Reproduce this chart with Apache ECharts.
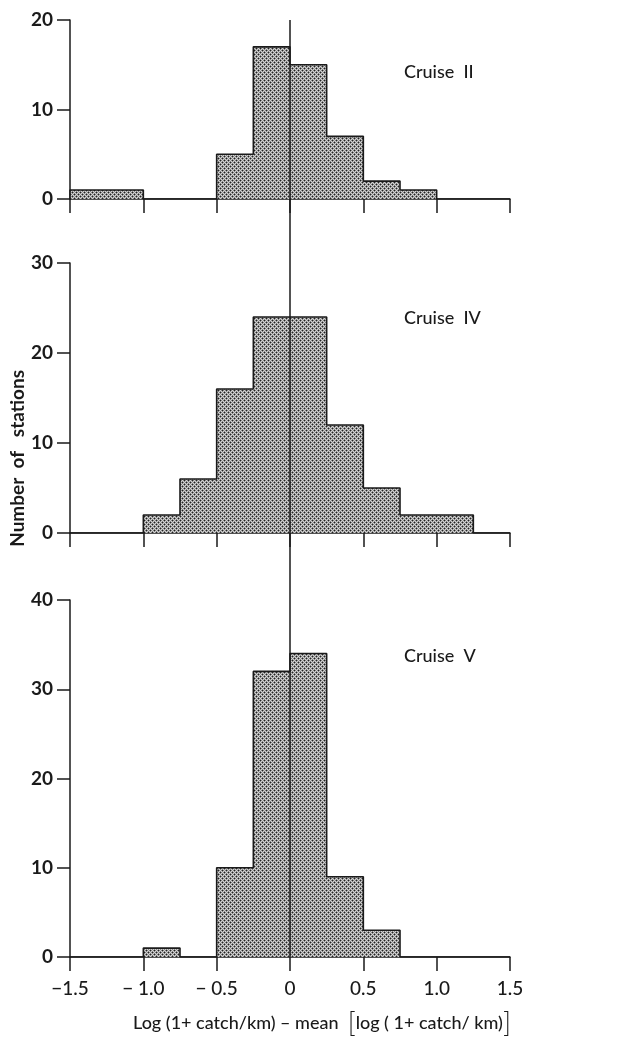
<!DOCTYPE html>
<html>
<head>
<meta charset="utf-8">
<script src="https://cdn.jsdelivr.net/npm/echarts@6/dist/echarts.min.js"></script>
<style>
  html, body { margin: 0; padding: 0; background: #fff; }
  #chart { width: 634px; height: 1038px; }
</style>
</head>
<body>
<div id="chart"></div>
<script>
// Histogram bin edges (width 0.25) and station counts per cruise
const binEdges = [-1.5, -1.25, -1.0, -0.75, -0.5, -0.25, 0, 0.25, 0.5, 0.75, 1.0, 1.25, 1.5];
const cruiseII = [1, 1, 0, 0, 5, 17, 15, 7, 2, 1, 0, 0];
const cruiseIV = [0, 0, 2, 6, 16, 24, 24, 12, 5, 2, 2, 0];
const cruiseV  = [0, 0, 1, 0, 10, 32, 34, 9, 3, 0, 0, 0];
const panelCounts = [cruiseII, cruiseIV, cruiseV];
const panelNames = ['Cruise  II', 'Cruise  IV', 'Cruise  V'];
const yMaxima = [20, 30, 40];
const xTickValues = [-1.5, -1.0, -0.5, 0, 0.5, 1.0, 1.5];
const xTickLabels = ['−1.5', '− 1.0', '− 0.5', '0', '0.5', '1.0', '1.5'];

const FONT = 'Lato, "Open Sans", sans-serif';
const INK = '#1a1a1a';

// Halftone stipple used as the bar fill: soft dark dots on a diagonal grid
function stipple() {
  const c = document.createElement('canvas');
  c.width = 4; c.height = 4;
  const g = c.getContext('2d');
  g.fillStyle = '#d2d2d2';
  g.fillRect(0, 0, 4, 4);
  const dot = (x, y) => {
    g.fillStyle = '#858585';
    g.fillRect((x + 1) % 4, y, 1, 1);
    g.fillRect(x, (y + 1) % 4, 1, 1);
    g.fillRect((x + 3) % 4, y, 1, 1);
    g.fillRect(x, (y + 3) % 4, 1, 1);
    g.fillStyle = '#222222';
    g.fillRect(x, y, 1, 1);
  };
  dot(0, 0);
  dot(2, 2);
  return c;
}
const pattern = { image: stipple(), repeat: 'repeat' };

// Outline of a histogram as step points: up at each left edge, across to the right edge
function histogramOutline(counts) {
  const pts = [[binEdges[0], 0]];
  counts.forEach((c, i) => pts.push([binEdges[i + 1], c]));
  pts.push([binEdges[counts.length], 0]);
  return pts;
}

const grids = [
  { left: 70, width: 440, top: 20, height: 179 },
  { left: 70, width: 440, top: 263, height: 270 },
  { left: 70, width: 440, top: 600, height: 357 }
];

const chart = echarts.init(document.getElementById('chart'), null, { renderer: 'canvas' });

const textGraphics = [
  {
    id: 'yName',
    type: 'text',
    left: 8,
    top: 370,
    rotation: Math.PI / 2,
    style: {
      text: 'Number  of   stations',
      font: 'bold 19px Lato, "Open Sans", sans-serif',
      fill: INK
    }
  },
  {
    id: 'xName',
    type: 'text',
    left: 133,
    top: 1010,
    style: {
      rich: {
        t: { fontFamily: FONT, fontSize: 18, fontWeight: 500, fill: INK, color: INK },
        b: { fontFamily: FONT, fontSize: 27, fontWeight: 300, fill: INK, color: INK }
      },
      text: '{t|Log (1+ catch/km) – mean  }{b|[}{t|log ( 1+ catch/ km)}{b|]}'
    }
  }
];

const option = {
  backgroundColor: '#ffffff',
  animation: false,
  title: panelNames.map((name, i) => ({
    text: name,
    left: 399,
    top: [58, 304, 642][i],
    textStyle: { fontFamily: FONT, fontSize: 18, fontWeight: 500, color: INK }
  })),
  grid: grids,
  xAxis: grids.map((g, i) => ({
    type: 'value',
    gridIndex: i,
    min: -1.5,
    max: 1.5,
    interval: 0.5,
    axisLine: { show: true, onZero: false, lineStyle: { color: INK, width: 1.5 } },
    axisTick: { show: true, inside: false, length: 14, lineStyle: { color: INK, width: 1.5 } },
    splitLine: { show: false },
    axisLabel: {
      show: i === 2,
      margin: 22,
      showMinLabel: true,
      showMaxLabel: true,
      fontFamily: FONT,
      fontSize: 19,
      fontWeight: 500,
      color: INK,
      formatter: v => {
        const k = xTickValues.findIndex(t => Math.abs(t - v) < 1e-9);
        return k >= 0 ? xTickLabels[k] : '';
      }
    }
  })),
  yAxis: grids.map((g, i) => ({
    type: 'value',
    gridIndex: i,
    min: 0,
    max: yMaxima[i],
    interval: 10,
    axisLine: { show: true, onZero: false, lineStyle: { color: INK, width: 1.5 } },
    axisTick: { show: true, inside: false, length: 13, lineStyle: { color: INK, width: 1.5 } },
    splitLine: { show: false },
    axisLabel: {
      margin: 17,
      fontFamily: FONT,
      fontSize: 19,
      fontWeight: 'bold',
      color: INK
    }
  })),
  series: panelCounts.map((counts, i) => ({
    type: 'line',
    xAxisIndex: i,
    yAxisIndex: i,
    step: 'start',
    symbol: 'none',
    data: histogramOutline(counts),
    lineStyle: { color: INK, width: 1.6 },
    areaStyle: { color: pattern, opacity: 1 },
    z: 3
  })),
  graphic: { elements: textGraphics }
};

chart.setOption(option);

// Zero reference line running through all three panels
const topPt = chart.convertToPixel({ gridIndex: 0 }, [0, yMaxima[0]]);
const botPt = chart.convertToPixel({ gridIndex: 2 }, [0, 0]);
chart.setOption({
  graphic: {
    elements: textGraphics.concat([
      {
        id: 'zeroLine',
        type: 'line',
        z: 100,
        shape: { x1: topPt[0], y1: topPt[1], x2: botPt[0], y2: botPt[1] },
        style: { stroke: INK, lineWidth: 1.5 }
      }
    ])
  }
});
</script>
</body>
</html>
